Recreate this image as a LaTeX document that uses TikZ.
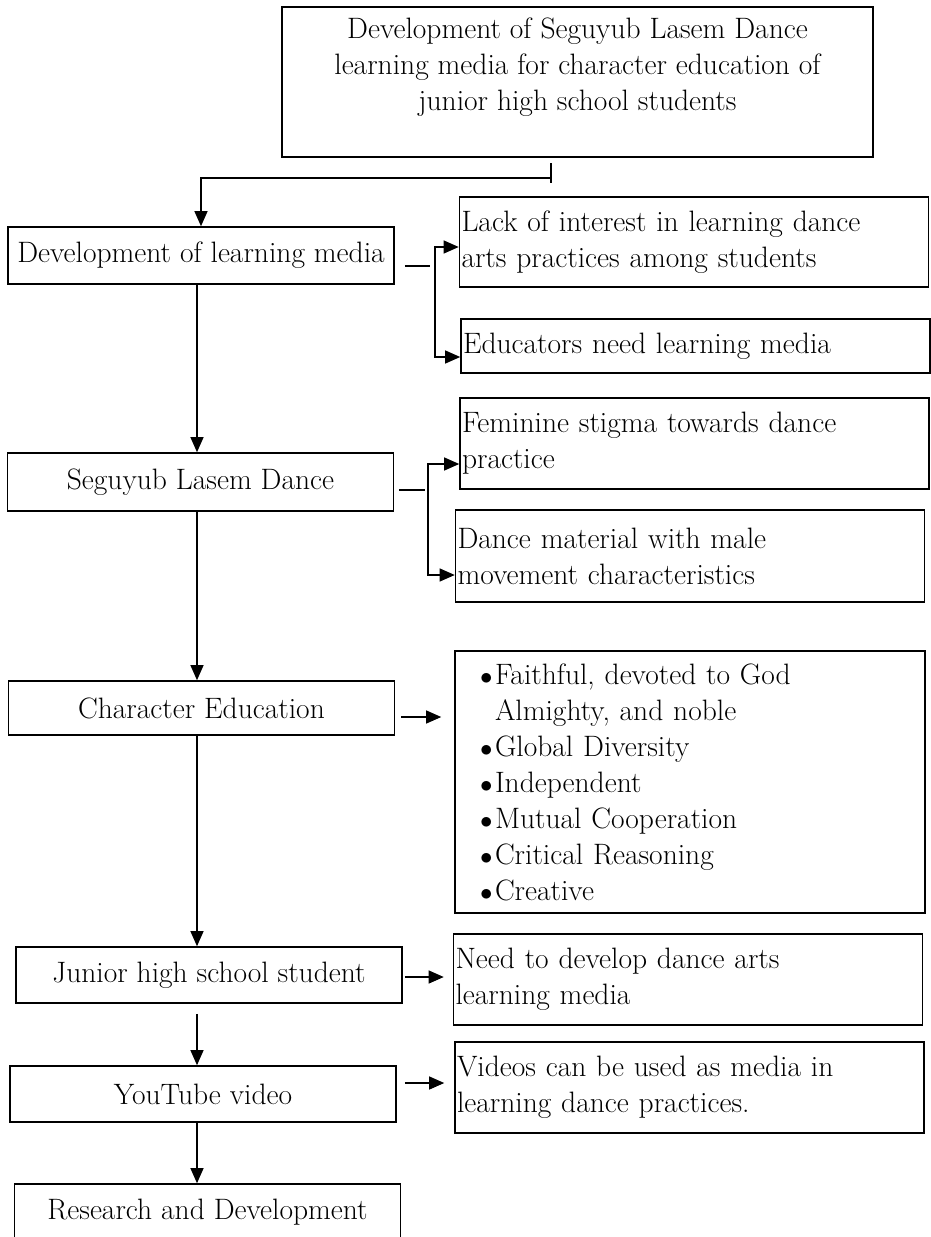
\documentclass[tikz,border=0pt]{standalone}
\usepackage{fontspec}
\usepackage{tikz}
\usetikzlibrary{arrows.meta, positioning, calc}

\newcommand{\listdot}{\makebox[15pt][l]{$\bullet$}}

\begin{document}
\begin{tikzpicture}[x=1pt, y=-1pt, font=\fontsize{29.5}{36}\selectfont]
	\tikzstyle{mainbox} = [rectangle, minimum width=386pt, align=center, draw=black, line width=1.6pt, inner sep=2pt]
	\tikzstyle{sidebox} = [rectangle, text width=465pt, inner xsep=2pt, inner ysep=2pt, align=left, draw=black, line width=1.6pt]
	\tikzstyle{arrow} = [line width=1.1pt, -{Triangle[length=15pt, width=13pt]}]
	\tikzstyle{stub} = [line width=1.1pt]

	\useasboundingbox (0,0) rectangle (931,1237);

	% Nodes
	\node (goal) [mainbox, minimum width=591pt, minimum height=150pt] at (577.5,82) {Development of Seguyub Lasem Dance\\ learning media for character education of\\ junior high school students\\[-12pt] \strut};

	\node (media) [mainbox, minimum height=57pt] at (201,255.5) {Development of learning media};
	\node (dance) [mainbox, minimum height=58pt] at (200.5,482) {Seguyub Lasem Dance};
	\node (chared) [mainbox, minimum height=54pt] at (201.5,708) {Character Education};
	\node (student) [mainbox, minimum height=56pt] at (209,975) {Junior high school student};
	\node (video) [mainbox, minimum height=56pt] at (203,1094) {YouTube video};
	\node (rnd) [mainbox, minimum height=56pt] at (207.5,1212) {Research and Development};

	\node (lack) [sidebox, minimum height=90pt] at (694,242) {Lack of interest in learning dance\\ arts practices among students};
	\node (edu) [sidebox, minimum height=54pt] at (695.5,346) {Educators need learning media};
	\node (stigma) [sidebox, minimum height=91pt] at (694.5,443.5) {Feminine stigma towards dance\\ practice};
	\node (male) [sidebox, minimum height=92pt] at (690,556) {Dance material with male\\ movement characteristics};
	\node (values) [sidebox, text width=420pt, inner xsep=25pt, minimum height=262pt] at (690,782) {\listdot Faithful, devoted to God\\ \hspace*{15pt}Almighty, and noble\\ \listdot Global Diversity\\ \listdot Independent\\ \listdot Mutual Cooperation\\ \listdot Critical Reasoning\\ \listdot Creative};
	\node (need) [sidebox, minimum height=91pt] at (688,979.5) {Need to develop dance arts\\ learning media};
	\node (videos) [sidebox, minimum height=91pt] at (689.5,1087.5) {Videos can be used as media in\\ learning dance practices.};

	% Arrows
	\coordinate (split) at (551,178);
	\draw [stub] ([yshift=15pt]split) -- ([yshift=-5pt]split);
	\draw [arrow] (split) -| (media.north);

	\coordinate (spine) at (197,0);
	\draw [arrow] (media.south -| spine) -- (dance.north -| spine);
	\draw [arrow] (dance.south -| spine) -- (chared.north -| spine);
	\draw [arrow] (chared.south -| spine) -- (student.north -| spine);
	\draw [arrow] ($(student.south -| spine)+(0,10)$) -- (video.north -| spine);
	\draw [arrow] (video.south -| spine) -- (rnd.north -| spine);

	% Side branches
	\draw [stub] ($(media.east)+(10,10.5)$) -- ++(25,0);
	\coordinate (forkA) at (435,300);
	\draw [arrow] (forkA) |- ($(lack.west)+(0,5)$);
	\draw [arrow] (forkA) |- ($(edu.west)+(0,11)$);

	\draw [stub] ($(dance.east)+(5,8)$) -- ++(26,0);
	\coordinate (forkB) at (428,520);
	\draw [arrow] (forkB) |- ($(stigma.west)+(0,20.5)$);
	\draw [arrow] (forkB) |- ($(male.west)+(0,19)$);

	\coordinate (charout) at ($(chared.east)+(6,9)$);
	\draw [arrow, shorten >=13pt] (charout) -- (charout -| values.west);
	\coordinate (studout) at ($(student.east)+(2,2)$);
	\draw [arrow, shorten >=9pt] (studout) -- (studout -| need.west);
	\coordinate (vidout) at ($(video.east)+(8,-11)$);
	\draw [arrow, shorten >=10pt] (vidout) -- (vidout -| videos.west);

\end{tikzpicture}
\end{document}
